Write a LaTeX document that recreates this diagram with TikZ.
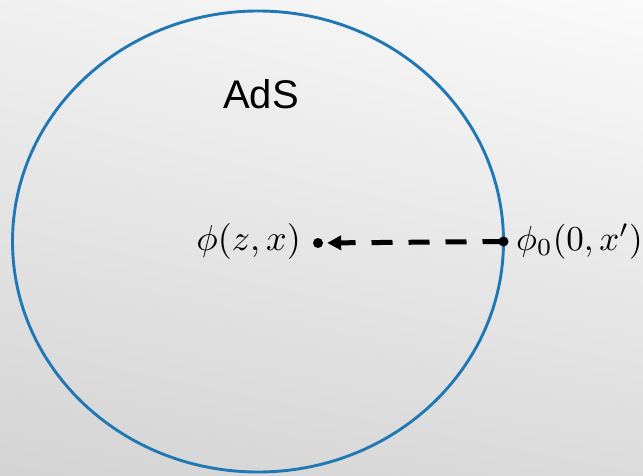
\documentclass[tikz,border=0pt]{standalone}
\usepackage{fontspec}
\newfontfamily\adsfont{Liberation Sans}
\usetikzlibrary{arrows.meta,shadings}
\definecolor{mplblue}{HTML}{1F77B4}
\newcommand{\bigmath}[2][3.6]{\scalebox{#1}{$#2$}}
\tikzset{
  boundary/.style={draw=mplblue, line width=2.9pt},
  dotnode/.style={circle, fill=black, inner sep=0pt, minimum size=10pt},
  mathlabel/.style={inner sep=0pt},
  flow/.style={line width=5pt, dash pattern=on 21pt off 16pt, -{Triangle[length=14pt,width=14pt]}, shorten >=4pt}
}
\begin{document}
\begin{tikzpicture}[x=1pt,y=-1pt]
\shade[upper left=black!6, upper right=black!2, lower left=black!17, lower right=black!14] (0,0) rectangle (643,476);
\useasboundingbox (0,0) rectangle (643,476);
\draw[boundary] (258,241.5) ellipse [x radius=245.5, y radius=230.5];
\node[inner sep=0pt, anchor=base, font=\adsfont\fontsize{40}{48}\selectfont] (ads) at (261,109) {AdS};
\node[dotnode] (a) at (318,243) {};
\node[dotnode] (b) at (503.5,241.5) {};
\node[mathlabel, anchor=base east] (la) at (301,250) {\bigmath{\phi(z,x)}};
\node[mathlabel, anchor=base west] (lb) at (516,250) {\bigmath[3.5]{\phi_0(0,x')}};
\draw[flow] (b.center) -- (a);
\end{tikzpicture}
\end{document}
